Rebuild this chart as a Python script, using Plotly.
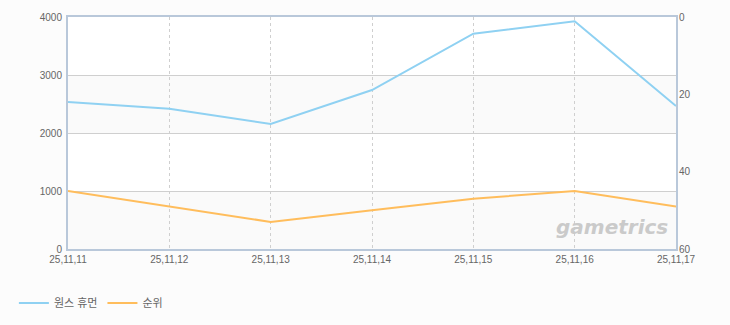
import plotly.graph_objects as go

dates = ["25,11,11", "25,11,12", "25,11,13", "25,11,14", "25,11,15", "25,11,16", "25,11,17"]
usage = [2534, 2419, 2155, 2741, 3712, 3925, 2466]
rank = [45, 49, 53, 50, 47, 45, 49]
left_ticks = [0, 1000, 2000, 3000, 4000]
right_ticks = [0, 20, 40, 60]
band_ranges = [(0, 1000), (2000, 3000)]

FONT = "Liberation Sans, Arial, Noto Sans CJK KR, sans-serif"
GRID = "#cfcfcf"
FRAME = "#b9c8da"

fig = go.Figure()
fig.add_trace(go.Scatter(x=list(range(len(dates))), y=usage, name="원스 휴먼", mode="lines",
                         line=dict(color="#8fd1f2", width=2), yaxis="y"))
fig.add_trace(go.Scatter(x=list(range(len(dates))), y=rank, name="순위", mode="lines",
                         line=dict(color="#ffbd5c", width=2), yaxis="y2"))

for lo, hi in band_ranges:
    fig.add_shape(type="rect", xref="paper", yref="y", x0=0, x1=1, y0=lo, y1=hi,
                  fillcolor="#fafafa", line_width=0, layer="below")

fig.add_annotation(text="gametrics", xref="paper", yref="paper", x=0.895, y=0.095,
                   xanchor="center", yanchor="middle", showarrow=False,
                   font=dict(family="DejaVu Sans, sans-serif", size=20, color="#cacaca",
                             style="italic", weight="bold"))

fig.update_layout(
    width=730, height=325,
    margin=dict(l=68, r=54, t=17, b=76, autoexpand=False),
    paper_bgcolor="#fcfcfc",
    plot_bgcolor="#ffffff",
    font=dict(family=FONT, size=10, color="#666666"),
    showlegend=True,
    legend=dict(orientation="h", x=-0.089, xanchor="left", y=-0.17, yanchor="top",
                font=dict(family=FONT, size=11, color="#666666"),
                bgcolor="rgba(0,0,0,0)", itemwidth=30),
    xaxis=dict(range=[0, len(dates) - 1], tickmode="array",
               tickvals=list(range(len(dates))), ticktext=dates,
               showgrid=True, gridcolor=GRID, griddash="3px,3px", gridwidth=1,
               showline=True, linecolor=FRAME, linewidth=2, mirror=True,
               ticks="", zeroline=False, fixedrange=True),
    yaxis=dict(range=[0, 4000], tickmode="array", tickvals=left_ticks,
               showgrid=True, gridcolor=GRID, gridwidth=1,
               showline=True, linecolor=FRAME, linewidth=2, mirror=True,
               ticks="", zeroline=False, ticklabelstandoff=2),
    yaxis2=dict(range=[60, 0], tickmode="array", tickvals=right_ticks,
                overlaying="y", side="right", showgrid=False, zeroline=False,
                showline=False, ticks="", ticklabelstandoff=2),
)

fig.write_html("out.html")
